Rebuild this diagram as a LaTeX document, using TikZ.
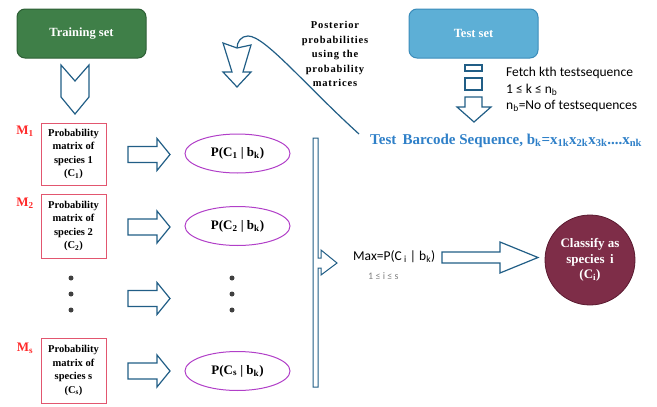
\documentclass[tikz,border=0pt]{standalone}
\usepackage{fontspec}
\setmainfont{Liberation Serif}
\newfontfamily\sansf{Carlito}
\usetikzlibrary{shapes.geometric}
\definecolor{trgreen}{HTML}{3F7F48}
\definecolor{trgreenD}{HTML}{2D5F35}
\definecolor{tsblue}{HTML}{5DAFD6}
\definecolor{tsblueD}{HTML}{3B8CBA}
\definecolor{arrblue}{HTML}{215E86}
\definecolor{pinkb}{HTML}{E2566F}
\definecolor{mred}{HTML}{FF2A2A}
\definecolor{epurple}{HTML}{B13FC8}
\definecolor{maroon}{HTML}{7E2D48}
\definecolor{maroonD}{HTML}{5A1A30}
\definecolor{barblue}{HTML}{2F80C8}
\definecolor{dotgray}{HTML}{404040}
\tikzset{
  setbox/.style={rounded corners=8pt, line width=1pt, minimum width=129pt, minimum height=49pt, inner sep=0pt, text=white, font=\fontsize{12.5}{14}\selectfont\bfseries},
  probbox/.style={draw=pinkb, line width=1pt, fill=white, minimum width=65pt, inner sep=0pt, align=center, font=\fontsize{10.5}{13.5}\selectfont\bfseries},
  mlabel/.style={text=mred, font=\fontsize{13}{15}\selectfont\bfseries, inner sep=0pt},
  postell/.style={ellipse, draw=epurple, line width=1pt, minimum width=105pt, minimum height=39pt, inner sep=0pt, font=\fontsize{13}{15}\selectfont\bfseries},
  blockarrow/.style={draw=arrblue, line width=1.2pt, fill=white, line join=miter},
  sansnode/.style={font=\sansf\fontsize{13.5}{15}\selectfont, inner sep=0pt, anchor=west},
  dotmark/.style={circle, fill=dotgray, minimum size=5pt, inner sep=0pt},
}
\newcommand\rblock[1]{\draw[blockarrow] (128,#1-8) -- (157,#1-8) -- (157,#1-16) -- (170,#1) -- (157,#1+16) -- (157,#1+8) -- (128,#1+8) -- cycle;}
\begin{document}
\begin{tikzpicture}[x=1pt,y=-1pt]
\useasboundingbox (0,0) rectangle (657,407);
% top boxes
\node[setbox, draw=trgreenD, fill=trgreen] (train) at (81.5,33.5) {Training set};
\node[setbox, draw=tsblueD, fill=tsblue] (test) at (473.5,33.5) {Test set};
% chevron below training set
\draw[blockarrow] (61,65) -- (61,97) -- (75,114) -- (89,97) -- (89,65) -- (75,81) -- cycle;
% test set small rects and arrow
\draw[blockarrow] (465,65) rectangle (482,71);
\draw[blockarrow] (465,78) rectangle (482,90);
\draw[blockarrow] (465,97) -- (482,97) -- (482,107) -- (491,107) -- (474,122) -- (457,107) -- (465,107) -- cycle;
% fetch text
\node[sansnode] (fetch) at (506,73) {Fetch kth testsequence};
\node[sansnode] (krange) at (506,89.5) {1 ≤ k ≤ n\textsubscript{b}};
\node[sansnode] (nb) at (506,106) {n\textsubscript{b}=No of testsequences};
% test barcode sequence
\node[anchor=west, inner sep=0pt, text=barblue, font=\fontsize{15}{17}\selectfont\bfseries] (tb) at (370,141) {Test\, Barcode Sequence, b\textsubscript{k}=x\textsubscript{1k}x\textsubscript{2k}x\textsubscript{3k}....x\textsubscript{nk}};
% posterior text
\node[align=center, inner sep=0pt, font=\fontsize{10.5}{14.5}\selectfont\bfseries\addfontfeature{LetterSpace=8}] (post) at (335,54) {Posterior\\probabilities\\using the\\probability\\matrices};
% curved connector with chevron head
\coordinate (cstart) at (359,134);
\coordinate (cnotch) at (237,48);
\draw[arrblue, line width=1.2pt] (cstart) .. controls (305,85) and (265,36) .. (248,36) .. controls (241,36) and (237,42) .. (cnotch);
\draw[blockarrow] (223,43) -- (cnotch) -- (251,45) -- (243,72) -- (251,72) -- (237,87) -- (223,72) -- (232,72) -- cycle;
% probability matrices
\node[probbox, minimum height=62pt] (m1) at (73.5,154) {Probability\\matrix of\\species 1\\(C\textsubscript{1})};
\node[probbox, minimum height=64pt] (m2) at (73.5,226) {Probability\\matrix of\\species 2\\(C\textsubscript{2})};
\node[probbox, minimum height=65pt] (ms) at (73.5,370.5) {Probability\\matrix of\\species s\\(C\textsubscript{s})};
\node[mlabel] (l1) at (25,131) {M\textsubscript{1}};
\node[mlabel] (l2) at (25,203) {M\textsubscript{2}};
\node[mlabel] (ls) at (25,348) {M\textsubscript{s}};
% dots
\foreach \yy/\nm in {278/a,294/b,310/c}{
  \node[dotmark] (ld\nm) at (71,\yy) {};
  \node[dotmark] (md\nm) at (232,\yy) {};
}
% block arrows
\rblock{154.5}
\rblock{227}
\rblock{298.5}
\rblock{371}
% ellipses
\node[postell] (e1) at (237.5,153.5) {P(C\textsubscript{1} | b\textsubscript{k})};
\node[postell] (e2) at (237.5,226) {P(C\textsubscript{2} | b\textsubscript{k})};
\node[postell] (es) at (237.5,371) {P(C\textsubscript{s} | b\textsubscript{k})};
% vertical bar with arrow
\draw[blockarrow, line width=1pt] (313,138) -- (313,387) -- (318,387) -- (318,268) -- (321,268) -- (321,275) -- (337,263) -- (321,250) -- (321,258) -- (318,258) -- (318,138) -- cycle;
% max text
\node[sansnode] (max) at (353,257) {Max=P(C\,\textsubscript{i} | b\textsubscript{k})};
\node[sansnode, text=gray, font=\sansf\fontsize{10}{12}\selectfont] (irange) at (368,276) {1 ≤ i ≤ s};
% arrow to circle
\draw[blockarrow] (442,252) -- (500,252) -- (500,242) -- (538,257.5) -- (500,273) -- (500,263) -- (442,263) -- cycle;
% classify circle
\node[circle, fill=maroon, draw=maroonD, line width=0.8pt, minimum size=90pt, inner sep=0pt, align=center, text=white, font=\fontsize{13}{15.5}\selectfont\bfseries] (cls) at (590,260) {Classify as\\species\, i\\(C\textsubscript{i})};
\end{tikzpicture}
\end{document}
